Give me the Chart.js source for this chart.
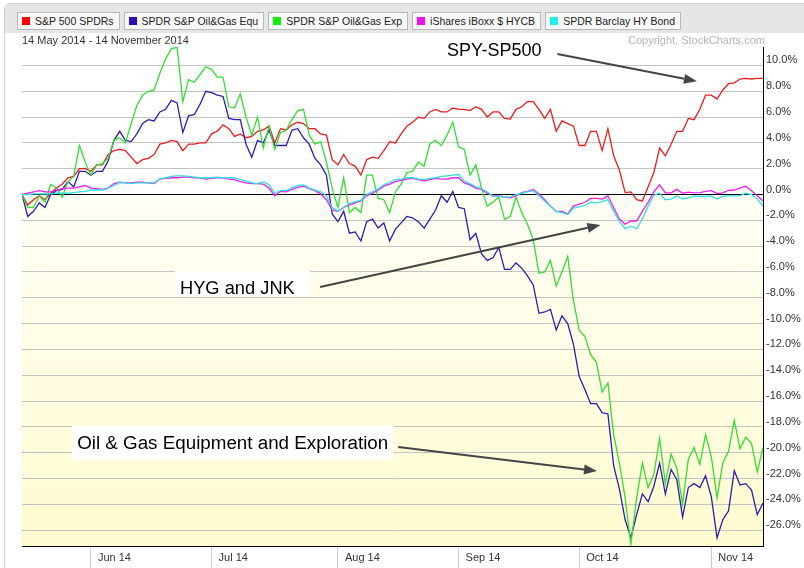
<!DOCTYPE html>
<html>
<head>
<meta charset="utf-8">
<script src="https://cdn.jsdelivr.net/npm/chart.js@4.4.1/dist/chart.umd.min.js"></script>
<style>
  html, body { margin: 0; padding: 0; background: #fff; }
  body { width: 804px; height: 568px; position: relative; overflow: hidden; font-family: 'Liberation Sans', Arial, sans-serif; }
  #frame { position: absolute; left: 4px; top: 3px; width: 810px; height: 600px; border: 1px solid #cfcfcf; border-radius: 6px; box-sizing: border-box; }
  #legendBar { position: absolute; left: 5px; top: 4px; width: 810px; height: 29px; background: #e6e6e6; border-radius: 5px 0 0 0; }
  #legend { position: absolute; left: 17px; top: 12px; display: flex; gap: 4px; }
  .item { height: 18px; box-sizing: border-box; border: 1px solid #b8b8b8; background: #f8f8f8; font-size: 10.5px; line-height: 16px; padding: 0 5px 0 4px; color: #222; white-space: nowrap; }
  .item i { display: inline-block; width: 8px; height: 8px; margin-right: 5px; }
  #range { position: absolute; left: 22px; top: 34px; font-size: 11px; color: #333; }
  #copy { position: absolute; left: 628px; top: 34px; font-size: 11px; color: #b4b4b4; }
  canvas { position: absolute; left: 0; top: 0; }
</style>
</head>
<body>
<div id="frame"></div>
<div id="legendBar"></div>
<div id="legend"></div>
<canvas id="trendChart" width="804" height="568"></canvas>
<div id="range">14 May 2014 - 14 November 2014</div>
<div id="copy">Copyright, StockCharts.com</div>
<script>
// Percent change since 14 May 2014, one value per trading day (130 days)
const spy = [
  0, -0.8, -0.4, -0.1, -0.4, 0.1, 0.5, 0.8, 1.3, 1.4,
  2.0, 2.0, 1.8, 2.3, 2.3, 3.1, 3.4, 3.5, 3.4, 2.9,
  2.4, 2.7, 2.8, 3.1, 3.9, 4.0, 4.2, 4.1, 3.4, 3.9,
  3.9, 4.0, 4.0, 4.7, 4.9, 5.4, 5.1, 4.5, 4.7, 4.4,
  4.5, 4.9, 5.0, 5.3, 4.0, 5.1, 5.0, 5.4, 5.6, 5.5,
  5.1, 5.1, 4.7, 4.6, 2.7, 2.3, 3.1, 2.4, 2.2, 1.5,
  2.7, 2.9, 2.8, 3.4, 4.1, 4.0, 4.7, 5.3, 5.6, 6.0,
  5.9, 6.4, 6.6, 6.4, 6.4, 6.7, 6.6, 6.6, 6.5, 6.8,
  6.6, 6.0, 6.4, 6.4, 5.9, 5.85, 6.6, 6.8, 7.2, 7.2,
  6.6, 5.9, 6.6, 4.9, 5.7, 5.5, 5.3, 3.8, 3.8, 4.9,
  4.9, 3.4, 5.1, 3.0, 1.9, 0.15, 0.2, -0.4, -0.5, 0.6,
  1.7, 3.6, 3.0, 3.9, 4.9, 4.9, 5.9, 5.8, 6.6, 7.7,
  7.7, 7.4, 8.1, 8.6, 8.65, 8.95, 9.0, 8.95, 9.0, 9.0
];
const xes = [
  0, -1.7, -1.3, -0.65, -1.0, 0.0, 0.3, 0.4, 1.0, 0.6,
  1.8, 1.8, 1.5, 1.8, 1.8, 2.6, 4.2, 4.9, 4.2, 4.1,
  4.7, 5.5, 5.8, 5.7, 6.4, 6.6, 7.3, 7.1, 4.8, 6.1,
  6.2, 7.0, 8.0, 7.9, 7.7, 7.6, 5.9, 5.8, 5.8, 3.9,
  2.9, 4.2, 4.0, 5.0, 3.8, 3.8, 3.8, 5.0, 5.1, 4.4,
  3.9, 2.8, 2.3, 1.5, -1.5, -2.1, -1.3, -3.0, -2.9, -3.6,
  -2.1, -1.9, -2.6, -2.2, -3.6, -2.7, -2.2, -1.7, -1.8, -2.1,
  -2.6, -1.9, -1.2, -0.1, -0.6, 0.25, -1.0, -1.1, -3.5, -3.0,
  -4.6, -5.1, -4.9, -4.1, -5.8, -5.8, -5.3, -5.7, -6.3, -7.0,
  -9.2, -9.1, -8.9, -10.5, -9.4, -10.0, -11.6, -14.1, -15.1, -16.2,
  -16.2, -16.9, -17.0, -21.0, -22.8, -25.2, -26.6, -24.8, -23.2, -23.8,
  -22.6, -20.8, -23.2, -21.3, -22.1, -25.0, -22.7, -22.4, -22.7, -21.8,
  -23.4, -26.6, -25.2, -24.5, -21.4, -22.5, -22.4, -22.9, -24.8, -23.9
];
const xop = [
  0, -1.0, -1.0, -0.1, -0.6, 0.8, 0.5, -0.2, 1.0, 1.4,
  3.8, 2.5, 1.5, 2.3, 2.4, 2.8, 4.2, 4.4, 4.0, 5.5,
  6.9, 7.7, 8.0, 8.1, 9.4, 10.5, 11.3, 11.4, 7.2, 8.9,
  8.7, 9.3, 9.9, 9.7, 9.1, 9.1, 6.8, 6.7, 7.8, 6.0,
  4.6, 6.0, 3.6, 5.3, 3.5, 4.8, 5.0, 5.8, 6.5, 6.6,
  4.6, 3.9, 4.1, 2.5, 0.5, -1.0, 1.3, -1.4, -1.0, -1.4,
  1.5, 1.5, -0.3, -0.4, -1.4, 0.2, 0.8, 1.7, 1.8, 2.5,
  2.2, 3.9, 4.2, 3.8, 4.6, 5.6, 3.7, 3.5, 1.5, 2.3,
  0.5, -0.9, -0.6, -0.2, -1.9, -1.7, -0.2, -1.4, -2.3, -3.5,
  -6.1, -6.0, -5.1, -7.1, -6.0, -4.8, -8.2, -10.5, -11.0, -12.4,
  -13.0, -15.3, -14.6, -18.6, -20.8, -23.5, -27.1, -23.5, -20.8, -22.7,
  -21.7, -18.9, -22.4, -20.1, -21.2, -24.0, -20.5, -19.6, -20.9, -18.6,
  -20.3, -23.5, -20.8, -19.9, -17.5, -19.7, -18.8, -19.3, -21.5, -19.6
];
const hyg = [
  0, 0.1, 0.2, 0.3, 0.2, 0.2, 0.35, 0.45, 0.5, 0.5,
  0.6, 0.7, 0.5, 0.45, 0.4, 0.5, 0.85, 0.95, 0.9, 0.9,
  0.95, 0.95, 0.9, 0.85, 1.2, 1.25, 1.3, 1.3, 1.35, 1.35,
  1.3, 1.3, 1.2, 1.25, 1.3, 1.3, 1.2, 1.15, 1.0, 0.9,
  0.85, 0.85, 0.8, 0.5, -0.1, 0.25, 0.2, 0.4, 0.55, 0.65,
  0.45, 0.3, 0.05, -0.4, -1.2, -1.3, -1.0, -0.8, -0.65, -0.5,
  -0.1, 0.1, 0.35, 0.65, 0.8, 1.0, 1.1, 1.2, 1.25, 1.15,
  1.05, 1.15, 1.25, 1.2, 1.2, 1.3, 1.3, 0.9, 0.75, 0.5,
  0.4, 0.1, -0.1, -0.1, -0.2, -0.25, -0.1, 0.15, 0.25, 0.4,
  0.05, -0.4, -0.9, -1.3, -1.3, -1.5, -0.9, -0.75, -0.6, -0.3,
  -0.3, -0.35, -0.1, -1.0, -1.9, -2.3, -2.05, -2.05, -1.3, -0.6,
  0.2, 0.75, 0.13, 0.13, 0.4, 0.1, 0.18, 0.13, 0.15, 0.25,
  0.3, 0.07, 0.13, 0.33, 0.35, 0.5, 0.64, 0.3, -0.1, -0.5
];
const jnk = [
  0, 0, 0.05, 0.05, 0.05, 0.05, 0.1, 0.1, 0.1, 0.15,
  0.2, 0.25, 0.35, 0.35, 0.35, 0.5, 0.7, 0.95, 0.9, 0.85,
  0.9, 0.9, 0.9, 0.9, 1.2, 1.3, 1.4, 1.45, 1.45, 1.4,
  1.35, 1.3, 1.3, 1.3, 1.35, 1.3, 1.3, 1.3, 1.15, 1.05,
  0.9, 0.85, 1.0, 0.75, 0.1, 0.3, 0.3, 0.5, 0.7, 0.75,
  0.5, 0.35, 0.2, -0.1, -1.0, -1.3, -1.0, -0.7, -0.55, -0.45,
  0.0, 0.2, 0.45, 0.75, 0.95, 1.15, 1.2, 1.3, 1.3, 1.2,
  1.15, 1.25, 1.3, 1.4, 1.45, 1.5, 1.55, 1.05, 0.85, 0.6,
  0.45, 0.2, -0.1, -0.15, -0.2, -0.2, 0.0, 0.1, 0.2, 0.3,
  -0.1, -0.5, -0.9, -1.3, -1.4, -1.55, -1.05, -0.95, -0.85, -0.6,
  -0.65, -0.55, -0.4, -1.3, -2.1, -2.65, -2.45, -2.65, -1.9, -0.9,
  -0.05, 0.1, -0.4, -0.35, -0.1, -0.35, -0.25, -0.1, -0.15, -0.15,
  -0.1, -0.35, -0.15, -0.1, -0.1, -0.1, 0.1, 0.0, -0.35, -0.9
];

// x axis: trading-day index of each month's first session, and its label
const monthStarts = [12, 33, 55, 76, 97, 120];
const monthLabels = ['Jun 14', 'Jul 14', 'Aug 14', 'Sep 14', 'Oct 14', 'Nov 14'];

const seriesNames = ['S&P 500 SPDRs', 'SPDR S&P Oil&Gas Equ', 'SPDR S&P Oil&Gas Exp', 'iShares iBoxx $ HYCB', 'SPDR Barclay HY Bond'];
const seriesData = [spy, xes, xop, hyg, jnk];
const lineColors = ['#e81c1c', '#2e1cae', '#33dd33', '#e620e6', '#33dede'];
const keyColors = ['#ff0000', '#2a10b8', '#11ee11', '#ee11ee', '#22eeee'];

const fontFamily = "'Liberation Sans', Arial, sans-serif";
Chart.defaults.font.family = fontFamily;

// html legend, the boxed buttons on top
const legend = document.getElementById('legend');
seriesNames.forEach((name, i) => {
    const el = document.createElement('span');
    el.className = 'item';
    el.innerHTML = `<i style="background:${keyColors[i]}"></i>`;
    el.appendChild(document.createTextNode(name));
    legend.appendChild(el);
});

// text callouts, placed in data units (day index, percent)
const notes = [
    { text: 'SPY-SP500', size: 18, at: [74.0, 10.73], from: [93.2, 10.88], to: [117.5, 8.77] },
    { text: 'HYG and JNK', size: 18.3, at: [27.5, -7.71], from: [51.9, -7.16], to: [100.7, -2.36], box: [5, 15, 23, 2] },
    { text: 'Oil & Gas Equipment and Exploration', size: 18.8, at: [9.6, -19.71], from: [65.5, -19.56], to: [100.1, -21.42], box: [5, 5, 23, 11] }
];

const backgroundPlugin = {
    id: 'lowerShade',
    beforeDraw(chart) {
        const { ctx, chartArea: a, scales: { y } } = chart;
        const zero = y.getPixelForValue(0);
        const g = ctx.createLinearGradient(0, zero, 0, a.bottom);
        g.addColorStop(0, '#fffef6');
        g.addColorStop(1, '#fffbcf');
        ctx.save();
        ctx.fillStyle = g;
        ctx.fillRect(a.left, zero, a.right - a.left, a.bottom - zero);
        ctx.restore();
    }
};

function drawArrow(ctx, x1, y1, x2, y2) {
    const ang = Math.atan2(y2 - y1, x2 - x1);
    const len = 13, half = 5;
    const c = Math.cos(ang), s = Math.sin(ang);
    ctx.beginPath();
    ctx.moveTo(x1, y1);
    ctx.lineTo(x2 - len * c, y2 - len * s);
    ctx.stroke();
    ctx.beginPath();
    ctx.moveTo(x2, y2);
    ctx.lineTo(x2 - len * c + half * s, y2 - len * s - half * c);
    ctx.lineTo(x2 - len * c - half * s, y2 - len * s + half * c);
    ctx.closePath();
    ctx.fill();
}

const notesPlugin = {
    id: 'callouts',
    afterDraw(chart) {
        const { ctx, scales: { x, y } } = chart;
        ctx.save();
        notes.forEach(n => {
            ctx.font = `${n.size}px ${fontFamily}`;
            const tx = x.getPixelForValue(n.at[0]);
            const ty = y.getPixelForValue(n.at[1]);
            if (n.box) {
                const w = ctx.measureText(n.text).width;
                const [pl, pr, pt, pb] = n.box;
                ctx.fillStyle = '#ffffff';
                ctx.fillRect(tx - pl, ty - pt, w + pl + pr, pt + pb);
            }
            ctx.fillStyle = '#000';
            ctx.textBaseline = 'alphabetic';
            ctx.fillText(n.text, tx, ty);
            ctx.strokeStyle = '#454545';
            ctx.fillStyle = '#454545';
            ctx.lineWidth = 2;
            drawArrow(ctx,
                x.getPixelForValue(n.from[0]), y.getPixelForValue(n.from[1]),
                x.getPixelForValue(n.to[0]), y.getPixelForValue(n.to[1]));
        });
        ctx.restore();
    }
};

new Chart(document.getElementById('trendChart'), {
    type: 'line',
    data: {
        datasets: seriesData.map((vals, i) => ({
            label: seriesNames[i],
            data: vals.map((v, k) => ({ x: k, y: v })),
            borderColor: lineColors[i],
            borderWidth: 1.3,
            pointRadius: 0,
            tension: 0,
            order: seriesData.length - i
        }))
    },
    options: {
        responsive: false,
        animation: false,
        devicePixelRatio: 1,
        layout: { padding: { left: 22, top: 47, right: 0, bottom: 0 } },
        plugins: { legend: { display: false }, tooltip: { enabled: false } },
        scales: {
            x: {
                type: 'linear',
                min: 0,
                max: spy.length - 1,
                afterBuildTicks: axis => { axis.ticks = monthStarts.map(v => ({ value: v })); },
                afterFit: axis => { axis.height = 22; },
                grid: { drawOnChartArea: false, drawTicks: true, tickLength: 22, color: '#cccccc' },
                border: { display: true, color: '#000' },
                ticks: {
                    autoSkip: false,
                    maxRotation: 0,
                    align: 'start',
                    labelOffset: 7,
                    padding: -17,
                    color: '#333',
                    font: { size: 11 },
                    callback: v => monthLabels[monthStarts.indexOf(v)]
                }
            },
            y: {
                position: 'right',
                min: -27.23,
                max: 11.43,
                afterFit: axis => { axis.width = 41; },
                grid: {
                    drawTicks: false,
                    color: ctx => ctx.tick && ctx.tick.value === 0 ? '#000' : '#c4c4c4'
                },
                border: { display: true, color: '#000' },
                ticks: {
                    stepSize: 2,
                    includeBounds: false,
                    padding: 3,
                    labelOffset: -5,
                    color: '#333',
                    font: { size: 11 },
                    callback: v => v.toFixed(1) + '%'
                }
            }
        }
    },
    plugins: [backgroundPlugin, notesPlugin]
});
</script>
</body>
</html>
